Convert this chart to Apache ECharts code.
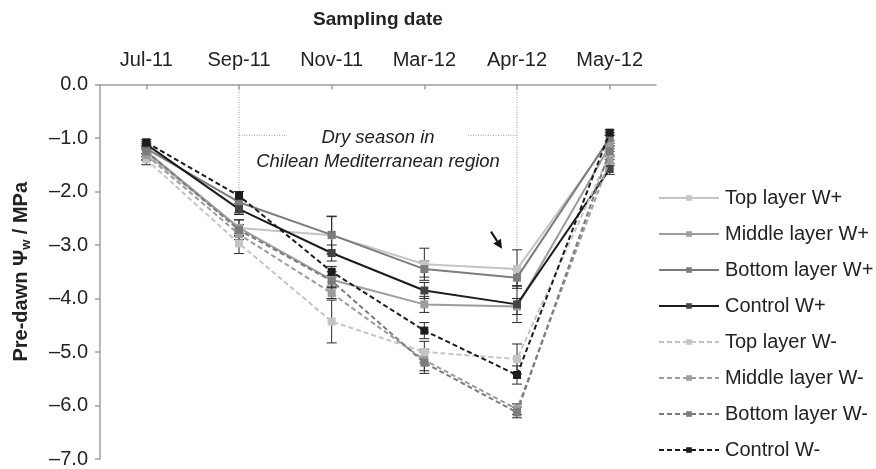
<!DOCTYPE html>
<html>
<head>
<meta charset="utf-8">
<script src="https://cdn.jsdelivr.net/npm/echarts@6/dist/echarts.min.js"></script>
<style>
html,body{margin:0;padding:0;background:#fff;}
#chart{width:876px;height:469px;}
</style>
</head>
<body>
<div id="chart"></div>
<script>
// ---- data ----
var categories = ['Jul-11', 'Sep-11', 'Nov-11', 'Mar-12', 'Apr-12', 'May-12'];
var seriesNames = ['Top layer W+', 'Middle layer W+', 'Bottom layer W+', 'Control W+',
                   'Top layer W-', 'Middle layer W-', 'Bottom layer W-', 'Control W-'];
var topWplus    = [-1.30, -2.68, -2.82, -3.36, -3.45, -1.05];
var midWplus    = [-1.25, -2.68, -3.65, -4.11, -4.15, -1.15];
var botWplus    = [-1.20, -2.20, -2.81, -3.45, -3.61, -1.00];
var ctrlWplus   = [-1.12, -2.33, -3.15, -3.85, -4.11, -1.58];
var topWminus   = [-1.40, -2.97, -4.43, -5.00, -5.13, -1.30];
var midWminus   = [-1.32, -2.80, -3.90, -5.15, -6.07, -1.42];
var botWminus   = [-1.25, -2.72, -3.67, -5.20, -6.13, -1.25];
var ctrlWminus  = [-1.08, -2.08, -3.50, -4.60, -5.43, -0.90];
// symmetric error (± MPa)
var errTopWplus   = [0.10, 0.15, 0.35, 0.30, 0.36, 0.10];
var errMidWplus   = [0.10, 0.15, 0.15, 0.15, 0.15, 0.10];
var errBotWplus   = [0.10, 0.20, 0.35, 0.15, 0.15, 0.10];
var errCtrlWplus  = [0.05, 0.10, 0.15, 0.15, 0.34, 0.10];
var errTopWminus  = [0.10, 0.19, 0.40, 0.20, 0.28, 0.10];
var errMidWminus  = [0.10, 0.10, 0.10, 0.20, 0.10, 0.10];
var errBotWminus  = [0.10, 0.10, 0.10, 0.20, 0.10, 0.10];
var errCtrlWminus = [0.05, 0.08, 0.10, 0.15, 0.17, 0.05];
var yTicks = [0, -1, -2, -3, -4, -5, -6, -7];

var values = [topWplus, midWplus, botWplus, ctrlWplus, topWminus, midWminus, botWminus, ctrlWminus];
var errors = [errTopWplus, errMidWplus, errBotWplus, errCtrlWplus, errTopWminus, errMidWminus, errBotWminus, errCtrlWminus];
var lineColors = ['#c4c4c4', '#9c9c9c', '#7c7c7c', '#1c1c1c', '#c4c4c4', '#9c9c9c', '#7c7c7c', '#1c1c1c'];
var markColors = ['#c4c4c4', '#9c9c9c', '#7c7c7c', '#444444', '#c4c4c4', '#9c9c9c', '#7c7c7c', '#1c1c1c'];
var FONT = '"Liberation Sans", Arial, sans-serif';

var chart = echarts.init(document.getElementById('chart'), null, {renderer: 'canvas'});

var series = [];
// error bars
var errData = [];
values.forEach(function (vals, s) {
  vals.forEach(function (v, i) {
    errData.push([i, v - errors[s][i], v + errors[s][i]]);
  });
});
series.push({
  type: 'custom',
  name: 'err',
  z: 1,
  silent: true,
  data: errData,
  encode: {x: 0, y: [1, 2]},
  renderItem: function (params, api) {
    var i = api.value(0);
    var lo = api.coord([i, api.value(1)]);
    var hi = api.coord([i, api.value(2)]);
    var hw = 5;
    var st = {stroke: '#2a2a2a', lineWidth: 1};
    return {
      type: 'group',
      children: [
        {type: 'line', shape: {x1: lo[0], y1: lo[1], x2: hi[0], y2: hi[1]}, style: st},
        {type: 'line', shape: {x1: lo[0] - hw, y1: lo[1], x2: lo[0] + hw, y2: lo[1]}, style: st},
        {type: 'line', shape: {x1: hi[0] - hw, y1: hi[1], x2: hi[0] + hw, y2: hi[1]}, style: st}
      ]
    };
  }
});
values.forEach(function (vals, s) {
  series.push({
    type: 'line',
    name: seriesNames[s],
    data: vals,
    z: 3 + s,
    symbol: 'rect',
    symbolSize: 8,
    showAllSymbol: true,
    lineStyle: {color: lineColors[s], width: 2, type: s >= 4 ? [5, 3] : 'solid'},
    itemStyle: {color: markColors[s]},
    emphasis: {disabled: true},
    animation: false
  });
});

var option = {
  animation: false,
  backgroundColor: '#ffffff',
  grid: {left: 100, right: 220, top: 84.5, bottom: 1, containLabel: false},
  xAxis: {
    type: 'category',
    position: 'top',
    data: categories,
    boundaryGap: true,
    name: 'Sampling date',
    nameLocation: 'middle',
    nameGap: 55,
    nameTextStyle: {fontFamily: FONT, fontSize: 19, fontWeight: 'bold', color: '#222'},
    axisLine: {show: true, lineStyle: {color: '#a0a0a0', width: 1.5}},
    axisTick: {show: true, inside: true, alignWithLabel: true, length: 5, lineStyle: {color: '#a0a0a0', width: 1.5}},
    axisLabel: {fontFamily: FONT, fontSize: 20, color: '#222', margin: 14},
    splitLine: {show: false}
  },
  yAxis: {
    type: 'value',
    min: -7,
    max: 0,
    interval: 1,
    name: '{a|Pre-dawn Ψ}{b|w}{a| / MPa}',
    nameLocation: 'middle',
    nameRotate: 90,
    nameGap: 67,
    nameTextStyle: {
      fontFamily: FONT, fontSize: 20, fontWeight: 'bold', color: '#222',
      rich: {
        a: {fontFamily: FONT, fontSize: 20, fontWeight: 'bold', color: '#222'},
        b: {fontFamily: FONT, fontSize: 13, fontWeight: 'bold', color: '#222', verticalAlign: 'bottom', padding: [10, 0, 0, 0]}
      }
    },
    axisLine: {show: true, lineStyle: {color: '#a0a0a0', width: 1.5}},
    axisTick: {show: true, inside: false, length: 5, lineStyle: {color: '#a0a0a0', width: 1.5}},
    axisLabel: {
      fontFamily: FONT, fontSize: 20, color: '#222', margin: 12,
      formatter: function (v) { return v === 0 ? '0.0' : '\u2013' + Math.abs(v).toFixed(1); }
    },
    splitLine: {show: false}
  },
  legend: {
    orient: 'vertical',
    left: 658,
    top: 188,
    padding: 0,
    itemWidth: 60,
    itemHeight: 7,
    itemGap: 16,
    data: seriesNames,
    selectedMode: false,
    textStyle: {fontFamily: FONT, fontSize: 20, color: '#222', padding: [0, 0, 0, 1]}
  },
  series: series
};
chart.setOption(option);

// ---- annotations (positioned through the axes) ----
function px(cat, val) { return chart.convertToPixel({xAxisIndex: 0, yAxisIndex: 0}, [cat, val]); }
var pSepTop = px('Sep-11', 0), pSepEnd = px('Sep-11', -2.0);
var pAprTop = px('Apr-12', 0), pAprEnd = px('Apr-12', -3.05);
var yBr = px('Sep-11', -0.95)[1];
var midX = (pSepTop[0] + pAprTop[0]) / 2;
var dot = {stroke: '#9a9a9a', lineWidth: 1, lineDash: [1, 1.5]};
var arrowTail = px('Apr-12', -2.75), arrowHead = px('Apr-12', -3.05);
var ax0 = arrowTail[0] - 26, ay0 = arrowTail[1];
var ax1 = arrowHead[0] - 15, ay1 = arrowHead[1] + 1;
var ang = Math.atan2(ay1 - ay0, ax1 - ax0);
var hl = 9, hw = 4.5;
var bx = ax1 - hl * Math.cos(ang), by = ay1 - hl * Math.sin(ang);
chart.setOption({
  graphic: [
    {type: 'line', silent: true, shape: {x1: pSepTop[0], y1: pSepTop[1], x2: pSepEnd[0], y2: pSepEnd[1]}, style: dot},
    {type: 'line', silent: true, shape: {x1: pAprTop[0], y1: pAprTop[1], x2: pAprEnd[0], y2: pAprEnd[1]}, style: dot},
    {type: 'line', silent: true, shape: {x1: pSepTop[0], y1: yBr, x2: pSepTop[0] + 48, y2: yBr}, style: dot},
    {type: 'line', silent: true, shape: {x1: pAprTop[0] - 49, y1: yBr, x2: pAprTop[0], y2: yBr}, style: dot},
    {type: 'text', silent: true, x: midX, y: yBr + 3, style: {text: 'Dry season in', font: 'italic 18.5px ' + FONT, fill: '#222', textAlign: 'center', textVerticalAlign: 'middle'}},
    {type: 'text', silent: true, x: midX, y: yBr + 27, style: {text: 'Chilean Mediterranean region', font: 'italic 18.5px ' + FONT, fill: '#222', textAlign: 'center', textVerticalAlign: 'middle'}},
    {type: 'line', silent: true, shape: {x1: ax0, y1: ay0, x2: bx, y2: by}, style: {stroke: '#111', lineWidth: 2}},
    {type: 'polygon', silent: true, shape: {points: [
      [ax1, ay1],
      [bx + hw * Math.sin(ang), by - hw * Math.cos(ang)],
      [bx - hw * Math.sin(ang), by + hw * Math.cos(ang)]
    ]}, style: {fill: '#111'}}
  ]
});
</script>
</body>
</html>
